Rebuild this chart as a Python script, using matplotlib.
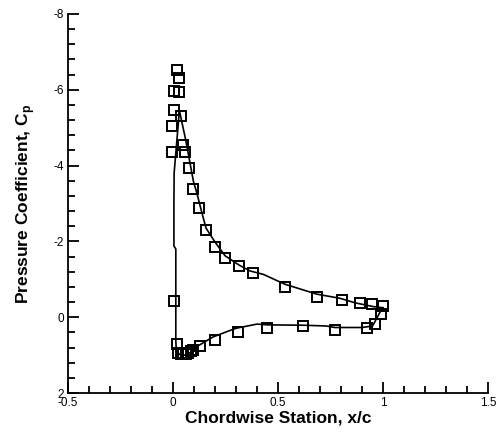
import matplotlib
matplotlib.use("Agg")
import matplotlib.pyplot as plt
from matplotlib.ticker import MultipleLocator

plt.rcParams['font.family'] = ['Liberation Sans', 'DejaVu Sans']
plt.rcParams['axes.unicode_minus'] = False
plt.rcParams['mathtext.fontset'] = 'custom'
plt.rcParams['mathtext.bf'] = 'Liberation Sans:bold'
plt.rcParams['mathtext.rm'] = 'Liberation Sans'

# Computed Cp curve: upper surface TE -> LE, down the leading edge, lower surface LE -> TE
line_x = [1.0, 0.954, 0.867, 0.795, 0.684, 0.533, 0.43, 0.367, 0.313, 0.248, 0.2, 0.157,
          0.137, 0.113, 0.097, 0.06, 0.03,
          0.005, 0.004, 0.004, 0.013, 0.013, 0.015, 0.03, 0.06, 0.09, 0.12, 0.19, 0.27,
          0.3, 0.4, 0.45, 0.62, 0.73, 0.77, 0.9, 0.95, 0.99, 1.0]
line_cp = [-0.25, -0.28, -0.38, -0.50, -0.61, -0.87, -1.13, -1.22, -1.38, -1.62, -1.98, -2.35,
           -2.76, -3.28, -3.58, -4.68, -5.45,
           -3.8, -3.0, -1.88, -1.80, 0.6, 0.85, 0.98, 1.0, 0.9, 0.75, 0.52, 0.35,
           0.29, 0.18, 0.20, 0.21, 0.23, 0.27, 0.27, 0.23, -0.18, -0.25]

# Experimental Cp (square markers)
exp_x = [0.018, 0.029, 0.004, 0.026, 0.005, 0.040, -0.004, 0.046, -0.006, 0.058, 0.074,
         0.094, 0.124, 0.157, 0.200, 0.248, 0.313, 0.379, 0.533, 0.684, 0.806, 0.891,
         0.946, 0.999, 0.991, 0.962, 0.922, 0.771, 0.617, 0.446, 0.311, 0.200, 0.130,
         0.097, 0.085, 0.073, 0.061, 0.049, 0.037, 0.025, 0.018, 0.006]
exp_cp = [-6.51, -6.32, -5.97, -5.93, -5.47, -5.30, -5.03, -4.53, -4.37, -4.35, -3.93,
          -3.39, -2.87, -2.30, -1.86, -1.56, -1.35, -1.18, -0.81, -0.54, -0.45, -0.37,
          -0.35, -0.29, -0.08, 0.17, 0.29, 0.34, 0.23, 0.27, 0.40, 0.61, 0.75,
          0.85, 0.89, 0.93, 0.96, 0.97, 0.97, 0.95, 0.70, -0.44]

x_ticks = [-0.5, 0, 0.5, 1, 1.5]
x_tick_labels = ['-0.5', '0', '0.5', '1', '1.5']
y_ticks = [-8, -6, -4, -2, 0, 2]
y_tick_labels = ['-8', '-6', '-4', '-2', '0', '2']

fig = plt.figure(figsize=(4.97, 4.32), dpi=100)
ax = fig.add_axes([0.137, 0.090, 0.845, 0.878])

ax.plot(line_x, line_cp, color='black', linewidth=1.2, zorder=2)
ax.plot(exp_x, exp_cp, linestyle='none', marker='s', markersize=7,
        markerfacecolor='none', markeredgecolor='black', markeredgewidth=1.4, zorder=3)

ax.set_xlim(-0.5, 1.5)
ax.set_ylim(2, -8)

ax.set_xticks(x_ticks)
ax.set_xticklabels(x_tick_labels)
ax.set_yticks(y_ticks)
ax.set_yticklabels(y_tick_labels)
ax.xaxis.set_minor_locator(MultipleLocator(0.1))
ax.yaxis.set_minor_locator(MultipleLocator(0.4))

for s in ['top', 'right']:
    ax.spines[s].set_visible(False)
for s in ['left', 'bottom']:
    ax.spines[s].set_linewidth(1.3)

ax.tick_params(which='both', direction='in', width=1.3, labelsize=8.5, colors='black')
ax.tick_params(which='major', length=8, pad=3)
ax.tick_params(which='minor', length=5)

ax.set_xlabel('Chordwise Station, x/c', fontsize=12.5, fontweight='bold', labelpad=1)
ax.set_ylabel(r'Pressure Coefficient, C$_{\mathbf{p}}$', fontsize=12.5, fontweight='bold', labelpad=12)

fig.savefig('out.png', dpi=100)
